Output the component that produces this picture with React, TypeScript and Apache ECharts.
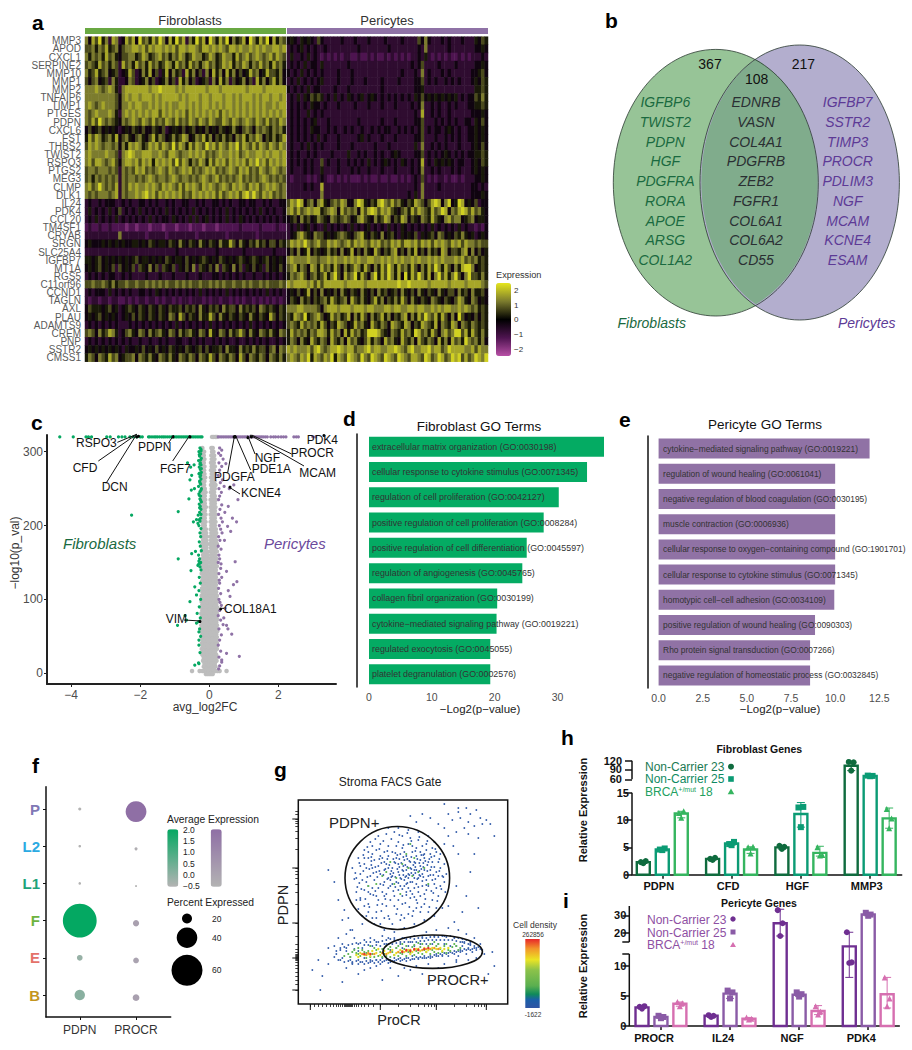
import React, { useEffect, useRef } from "react";
import * as echarts from "echarts";

const FONT = '"Liberation Sans", Arial, sans-serif';

/* ---------- a: heatmap ---------- */
const heatGenes = ["MMP3","APOD","CXCL1","SERPINE2","MMP10","MMP1","MMP2","TNFAIP6","TIMP1","PTGES","PDPN","CXCL6","FST","THBS2","TWIST2","RSPO3","PTGS2","MEG3","CLMP","DLK1","IL24","PDK4","CCL20","TM4SF1","CRYAB","SRGN","SLC25A4","IGFBP7","MT1A","RGS5","C11orf96","CCND1","TAGLN","AXL","PLAU","ADAMTS9","CREM","PNP","SSTR2","CMSS1"];
// one digit per cell column: 0 = about -2.25 ... 9 = about +2.25, read row by row
const heatFibroblasts = [
"748695738734868496758697485968375968497586947568497586948576",
"667576856746778878687887878688788768878787688787787878778878",
"757675867546677568756786757687568775687568775867867876786876",
"676586757638675867586756875867586757867568785768757686758675",
"756856745634586347584635847563857463748574857464586745866574",
"646745637533476345746345746385746345637485736457463857468574",
"777876787537888888878898888787888888788878888888788887888888",
"777777777647878878887878888878788878878887887878887878878878",
"787678777647787887787878787788787878878787887878787878778788",
"767877787537878787878868787878687878787868787878787878787878",
"768697676547678768768676876867687687687668768767876876867687",
"464564545434546546446546345546456454645465457546764767657675",
"586875675846754675468576457568745768574657564768576874657568",
"687876776747587875687868769687586876978687687968768687687687",
"787777877637898778887787688767787878676787787867877887878878",
"786887678647887868785878786968757687586878687878687978687878",
"677677767637676878676787687678786767878676787687867687678767",
"675767676737677676787677678767767678767867676786767678767676",
"786797676837687877878768787686878768787678768787687867878767",
"767677767837677878978687878786768787878686787868979768786767",
"343343444334343344343433434334433434334434343344344334343344",
"353434353463434353434343534343435343434343534343434353434334",
"343534343534343434353434435434353534534343534354343434343434",
"232232232222122122212221222122212221222122222232222232222322",
"333333333373333333233333233333333233333333233333333233333333",
"454445454545445545465455465475465475465475586475465756466465",
"333333333333333333333333333433333333333433333334333333334333",
"554564545454545645545454654554645456545465454565456545645454",
"454564546364546365474636546354647365464736547463546453645464",
"343434344334343333433343334333433343334434343434334334343434",
"667667657566766766767676766767676676676767667667676676766676",
"343444353434343344343543434343434353434343534343434343534343",
"323323323322323233233232332323323332323323323232332323232323",
"465554564534565465465465465564656475465647566475656476565465",
"454564545434546465465465476486465475586475465465475465486465",
"343434343433343434343434343534343434353434343434353434343434",
"676475687534675476475675476475675476485476475686475476575476",
"343434343434343343343343433443343434334343433433434343433434",
"454545454543544546454645465454654564645564755475657566467476",
"576476586745667476575476575476576476586476576486476576476575",
];
const heatPericytes = [
"454354543643333343334333433334333343333647433343433343335465",
"343453434334333333333433333333433333333437333333433333334454",
"353343534323232323322322323223232323233435323232322323233343",
"343435344353333333433333333333333333343463333433334333334454",
"434353434343333433343333333333333343334373433343433333344564",
"343534343453333433343334333343333433334463434334343433345465",
"434343534433334333433333333343333333334453333333333333335565",
"343535465653435343543453454343434343435464545454545343446575",
"343434354434333433334333433343334333343473343433434333445565",
"343433534343333333333333333333333333334383343433433333344454",
"343434345333433333333433333343334333334463334343434334435464",
"343434354433434334343343343434433434343463434434543433445454",
"343434343534333433333453433343334333334463334334343433445454",
"343343534343333433343333334333433333335373343434333433345464",
"343433434333343333533434334343345433334463434345434343445565",
"343434343363433433434343534345434354343483435454543443345465",
"343334343353333433343433433343334333343473343433343433345454",
"323333232343223232322232322322322323234363232332322323334454",
"333334343383333333333333333333333333334373333433333333344343",
"333333333373333333333333333333333333435373333333333333344454",
"687984674785467687447985465897686754658764689847945984546344",
"786867878856787486767486898687865467586876586798476898686754",
"456475645765476567645786547568746587465476586547867745674554",
"343534534335343434353434534343534354343434353434343534332324",
"345786547664545676546785465474564354546354564764546575453454",
"687879767866878767868787687867687868878687868787687868776766",
"464745846545756474584647548646578464758464756487466578474645",
"787777877677878778787877887787878787787877878787778786767565",
"678576487586758647568758647586975867586475869758647589974565",
"576786467568579648679586479586975849586975847968579647966575",
"878888786868888887888887888888888988988888788888788887888876",
"454645846474546475465475464756456475464754654754664756475564",
"465475646567586567486575468574657586475465476546546875476454",
"777887777647888788878887887778878877887887787878877878767565",
"658769567864586756847586475685746578475869768586474964546465",
"676586767586465876458675486576487658746587658476587476576565",
"586767576887586748586756999865476586759867586478679968586575",
"576475486576486574867546857648675486574865764857486759767574",
"878777868976788987886778978877889876897788978867988887786877",
"787687958768795876987697698769876987688769867986798968679879",
];

/* ---------- b: Venn ---------- */
const vennFibroblasts = ["IGFBP6","TWIST2","PDPN","HGF","PDGFRA","RORA","APOE","ARSG","COL1A2"];
const vennShared = ["EDNRB","VASN","COL4A1","PDGFRB","ZEB2","FGFR1","COL6A1","COL6A2","CD55"];
const vennPericytes = ["IGFBP7","SSTR2","TIMP3","PROCR","PDLIM3","NGF","MCAM","KCNE4","ESAM"];

/* ---------- c: volcano (flat x,y lists; grey rows start with y) ---------- */
const volcanoTopGreenX = [-4.33,-3.94,-3.57,-3.5,-3.41,-2.97,-2.87,-2.63,-2.53,-2.44,-2.3,-2.2,-2.1,-2.0,-1.94,-1.76,-1.72,-1.66,-1.6,-1.55,-1.5,-1.44,-1.38,-1.33,-1.28,-1.22,-1.16,-1.1,-1.05,-1.0,-.95,-.9,-.85,-.8,-.75,-.7,-.65,-.6,-.55,-.5,-.45,-.4,-.35,-.3,-.25,-.21];
const volcanoTopGreyX = [.08,.13,.18,.22];
const volcanoTopPurpleX = [.26,.31,.36,.41,.46,.51,.56,.61,.66,.71,.76,.81,.86,.91,.96,1.01,1.06,1.11,1.16,1.21,1.26,1.31,1.36,1.41,1.46,1.51,1.56,1.62,1.68,1.78,1.86,1.92,2.0,2.08,2.15,2.22,2.45,2.52,2.58,3.0,3.08];
const volcanoGreen = [-.27,305,-.24,303,-.3,300,-.25,297,-.28,294,-.23,291,-.31,288,-.26,285,-.24,282,-.29,279,-.26,276,-.23,272,-.3,270,-.27,266,-.24,263,-.28,260,-.25,256,-.31,253,-.23,250,-.27,246,-.3,243,-.25,240,-.27,236,-.23,232,-.29,229,-.26,226,-.24,222,-.28,218,-.32,214,-.25,210,-.27,206,-.3,200,-.24,196,-.27,190,-.25,185,-.29,178,-.26,172,-.23,166,-.31,160,-.28,155,-.25,150,-.3,148,-.27,144,-.24,140,-.29,130,-.26,122,-.3,112,-.25,100,-.29,90,-.26,75,-.31,70,-.28,60,-.25,50,-.3,38,-.27,28,-.31,14,-.24,301,-.29,296,-.25,289,-.27,283,-.23,277,-.28,271,-.25,268,-.27,258,-.24,248,-.29,241,-.25,234,-.28,224,-.24,215,-.29,208,-.33,203,-.3,152,-.27,149,-.33,146,
-2.25,214,-.9,219,-.9,155,-.92,65,-.63,285,-.54,279,-.44,282,-.51,268,-.56,262,-.52,248,-.59,236,-.43,250,-.46,205,-.37,208,-.53,139,-.51,162,-.4,165,-.42,117,-.56,97,-.37,106,-.35,81,-.7,78,-.37,68,-.42,11,-.3,13,-.3,45,-.3,56,-.66,72];
const volcanoPurple = [.3,305,.36,302,.27,298,.33,295,.4,290,.28,285,.36,280,.3,275,.26,268,.38,262,.32,258,.28,250,.35,245,.3,240,.27,235,.36,228,.31,222,.27,215,.34,210,.38,205,.29,200,.33,195,.37,190,.27,185,.31,180,.26,172,.34,168,.28,160,.3,155,.26,150,.33,142,.28,135,.36,130,.3,122,.27,115,.33,108,.28,100,.35,92,.3,85,.26,78,.33,72,.4,66,.28,60,.35,52,.3,45,.26,38,.33,30,.28,22,.36,15,.3,10,.27,6,.34,148,.29,126,.31,96,
.48,284,.71,255,.43,253,.83,235,.55,226,.67,210,.79,205,.53,199,.75,151,.5,138,.8,124,.7,120,.6,104,.5,65,.65,53,.5,27,.87,23,.36,18,.58,250,.45,218,.62,192,.44,180,.55,112,.46,88,.42,75,.54,60];
const volcanoGreyRows = [
[305,-.2,.06,.1],[295,-.21,-.16,.06,.1,.14],[285,-.21,-.16,.05,.09,.13],[275,-.2,-.15,.05,.09,.14],[265,-.21,-.16,-.12,.05,.09,.13],[255,-.2,-.15,.05,.09,.13,.18],[245,-.2,-.15,-.11,.05,.09,.14],[235,-.21,-.16,-.12,.04,.09,.14,.19],[225,-.2,-.15,-.1,.04,.08,.13,.18],[215,-.2,-.15,-.11,.04,.09,.14,.19],[205,-.21,-.16,-.11,.04,.08,.13,.18],[195,-.2,-.15,-.1,.04,.09,.14,.19],[185,-.21,-.16,-.11,-.07,.03,.08,.13,.18],[175,-.2,-.15,-.1,-.06,.03,.08,.13,.18,.22],[165,-.21,-.16,-.11,-.06,.03,.07,.12,.17,.22],[155,-.2,-.15,-.1,-.05,.03,.07,.12,.17,.21],[145,-.21,-.16,-.11,-.06,.02,.07,.12,.17,.22],[135,-.22,-.17,-.12,-.07,-.03,.02,.07,.12,.17,.21],[125,-.21,-.16,-.11,-.06,-.02,.02,.07,.12,.17,.22],[115,-.21,-.16,-.11,-.06,-.02,.02,.07,.12,.17,.21],
[105,-.22,-.17,-.12,-.07,-.02,.02,.07,.12,.17,.22],[97,-.22,-.17,-.12,-.07,-.02,.03,.08,.13,.18,.22],[89,-.22,-.17,-.12,-.07,-.02,.03,.08,.13,.18,.23],[81,-.23,-.18,-.13,-.08,-.03,.02,.07,.12,.17,.22],[73,-.22,-.17,-.12,-.07,-.02,.03,.08,.13,.18,.23],[65,-.23,-.18,-.13,-.08,-.03,.02,.07,.12,.17,.22],[57,-.22,-.17,-.12,-.07,-.02,.03,.08,.13,.18,.23],[49,-.22,-.17,-.12,-.07,-.02,.03,.08,.13,.18,.22],[41,-.21,-.16,-.11,-.06,-.01,.04,.09,.14,.19,.22],[33,-.22,-.17,-.12,-.07,-.02,.03,.08,.13,.18,.22],[25,-.2,-.15,-.1,-.05,0,.05,.1,.15,.2],[17,-.18,-.13,-.08,-.03,.02,.07,.12,.17,.21],[9,-.16,-.11,-.06,-.01,.04,.09,.14,.18],[3,-.5,-.28,-.2,-.14,-.08,-.03,.02,.07,.12,.18,.24,.3,.5],[-1,-.1,-.05,0,.05,.1],
[300,-.19,-.15,.08,.12],[290,-.19,-.14,.07,.11,.15],[280,-.19,-.14,.07,.11,.16],[270,-.19,-.14,.07,.12,.16],[260,-.19,-.14,.07,.11,.15],[250,-.19,-.13,.07,.11,.16],[240,-.18,-.13,.07,.11,.16],[230,-.18,-.13,.06,.11,.16],[220,-.18,-.13,.06,.11,.16],[210,-.18,-.13,.06,.11,.16],[200,-.18,-.13,.06,.11,.16],[190,-.18,-.13,-.09,.06,.1,.15,.2],[180,-.18,-.13,-.08,.05,.1,.15,.2],[170,-.18,-.13,-.08,.05,.1,.15,.2],[160,-.18,-.13,-.08,-.04,.05,.09,.14,.19],[150,-.18,-.13,-.08,-.04,.05,.09,.14,.19],[140,-.19,-.14,-.09,-.04,.04,.09,.14,.19],[130,-.19,-.14,-.09,-.04,0,.04,.09,.14,.19],[120,-.19,-.14,-.09,-.04,0,.04,.09,.14,.19],[110,-.2,-.15,-.1,-.05,0,.04,.09,.14,.2],
[101,-.2,-.15,-.1,-.05,0,.05,.1,.15,.2],[93,-.2,-.15,-.1,-.05,0,.05,.1,.15,.2],[85,-.2,-.15,-.1,-.05,0,.05,.1,.15,.2],[77,-.2,-.15,-.1,-.05,0,.05,.1,.15,.2],[69,-.2,-.15,-.1,-.05,0,.05,.1,.15,.2],[61,-.2,-.15,-.1,-.05,0,.05,.1,.15,.2],[53,-.2,-.15,-.1,-.05,0,.05,.1,.15,.2],[45,-.19,-.14,-.09,-.04,.01,.06,.11,.16,.21],[37,-.19,-.14,-.09,-.04,.01,.06,.11,.16,.21],[29,-.18,-.13,-.08,-.03,.02,.07,.12,.17],[21,-.16,-.11,-.06,-.01,.04,.09,.14,.19],[13,-.14,-.09,-.04,.01,.06,.11,.16],[6,-.12,-.07,-.02,.03,.08,.13]];
const volcanoLabelled = [-2.05,321,-2.1,320,-1.05,320,-.56,320,.72,320,.75,320,1.12,319,1.22,320,3.32,322,.6,252,.33,87,-.27,70];

/* ---------- d, e: GO terms ---------- */
const goFibroTerms = ["extracellular matrix organization (GO:0030198)","cellular response to cytokine stimulus (GO:0071345)","regulation of cell proliferation (GO:0042127)","positive regulation of cell proliferation (GO:0008284)","positive regulation of cell differentiation (GO:0045597)","regulation of angiogenesis (GO:0045765)","collagen fibril organization (GO:0030199)","cytokine\u2212mediated signaling pathway (GO:0019221)","regulated exocytosis (GO:0045055)","platelet degranulation (GO:0002576)"];
const goFibroValues = [37.4,34.7,30.2,27.8,25.1,24.4,20.4,20.3,19.3,19.3];
const goPeriTerms = ["cytokine\u2212mediated signaling pathway (GO:0019221)","regulation of wound healing (GO:0061041)","negative regulation of blood coagulation (GO:0030195)","muscle contraction (GO:0006936)","cellular response to oxygen\u2212containing compound (GO:1901701)","cellular response to cytokine stimulus (GO:0071345)","homotypic cell\u2212cell adhesion (GO:0034109)","positive regulation of wound healing (GO:0090303)","Rho protein signal transduction (GO:0007266)","negative regulation of homeostatic process (GO:0032845)"];
const goPeriValues = [11.95,10.0,10.0,10.0,10.0,10.0,9.95,8.86,8.58,8.58];

/* ---------- f: dot plot ---------- */
const dotRows = ["B","E","F","L1","L2","P"];
const dotRowColors = ["#c3951e","#e4726a","#6db33f","#1ea37a","#2baae2","#7f78b5"];
const dotGenes = ["PDPN","PROCR"];
const dotPdpnPercent = [20,11,65,5,5,6];
const dotPdpnAverage = [0.1,-0.1,2,-0.5,-0.5,-0.5];
const dotProcrPercent = [13,11,12,4,6,40];
const dotProcrAverage = [0.2,0.1,0.2,-0.5,-0.3,2];
const dotProcrShift = -0.07;

/* ---------- g: FACS (x,y flat lists) ---------- */
const facsBlue = [62,130,70,118,58,112,66,140,74,150,82,160,78,132,86,122,90,148,94,136,98,158,102,126,106,144,110,130,114,152,118,120,122,138,126,146,130,128,134,156,138,116,142,136,88,170,96,172,104,168,112,166,120,164,128,160,70,100,78,92,86,86,94,80,102,84,110,90,118,96,126,100,134,104,140,108,146,122,60,95,64,88,72,110,80,104,88,98,96,108,104,100,112,106,120,112,128,114,136,120,84,112,92,118,100,114,108,120,116,126,124,118,132,134,140,128,56,125,54,136,60,146,66,154,72,162,80,168,90,176,100,176,110,174,120,172,130,168,136,162,142,150,146,140,148,130,147,112,144,96,136,88,126,84,116,80,106,76,96,72,86,74,76,80,68,88,105,138,108,134,112,142,116,134,100,132,96,142,92,130,88,140,84,146,80,138,76,144,72,128,68,122,64,124,118,148,122,144,126,134,128,124,130,142,106,152,102,150,98,146,94,152,90,158,86,152,110,160,114,158,118,156,122,152,104,156,100,162,108,148,112,122,116,116,120,126,124,130,108,112,104,108,100,104,96,98,92,104,88,110,84,100,80,116,76,124,74,136,70,146,68,136,82,130,86,134,90,126,94,120,98,122,102,118,106,124,110,116,114,110,118,104,122,108,126,110,130,118,134,124,138,132,140,142,136,148,132,150,128,154,124,158,
100,140,104,134,108,128,112,136,116,142,94,128,90,136,86,142,82,148,78,154,74,158,70,152,66,146,62,138,58,126,58,104,62,104,66,98,70,92,74,86,78,86,82,80,90,88,98,90,106,86,114,88,122,92,130,92,138,96,142,118,144,128,138,152,134,142,126,150,122,128,118,134,
60,60,66,64,72,66,78,62,84,68,90,66,96,64,36,58,40,66,44,60,48,70,52,74,56,66,30,40,24,28,44,22,60,30,72,36,84,24,100,28,112,34,124,30,140,36,152,28,48,36,54,40,66,34,78,38,92,36,106,36,118,38,130,40,146,40,158,42,170,44,178,46,186,50,194,52,182,60,176,66,168,70,160,74,150,76,138,74,128,72,116,68,106,66,178,54,172,60,164,62,156,66,146,68,136,68,124,66,112,62,102,60,92,42,82,40,72,42,62,42,52,44,42,44,38,50,42,54,48,56,54,42,60,44,66,46,72,44,78,44,84,46,90,44,96,46,102,46,108,46,114,48,120,46,126,46,132,46,138,48,144,48,150,48,156,50,162,52,168,50,174,52,176,56,170,56,164,58,158,58,152,58,146,60,140,60,134,60,128,60,122,60,116,58,110,58,104,56,98,56,92,54,88,60,160,48,166,62,158,44,172,62,
140,180,146,176,150,190,154,184,158,172,160,192,162,186,166,176,168,196,170,182,172,190,176,178,178,194,182,186,184,180,188,184,192,180,150,168,146,160,155,158,160,150,180,166,196,168,132,186,124,190,118,182,112,188,146,200,160,196,170,170,176,150,158,118,172,132,164,92,180,96,168,108,196,38,190,30,156,82,150,98,40,104,46,94,44,84,54,74,36,122,30,134,64,80,50,86,22,14,14,34,20,44,30,56];
const facsBlueCloud = [61,121,65,133,69,127,73,139,77,113,81,145,85,119,89,125,93,133,97,117,101,137,105,129,109,121,113,131,117,141,121,133,125,127,129,139,133,113,137,125,141,133,63,115,67,105,71,97,75,109,79,99,83,93,87,105,91,85,95,113,99,95,103,89,107,101,111,97,115,93,119,101,123,97,127,105,131,97,135,111,139,103,143,115,145,127,59,117,57,131,61,141,65,149,69,157,73,147,77,165,81,155,85,163,89,153,93,165,97,151,101,169,105,159,109,171,113,163,117,153,121,167,125,149,129,163,133,147,137,155,141,145,
95,131,97,127,99,135,101,129,103,141,105,133,107,127,109,137,111,143,113,135,115,129,117,137,119,145,121,129,123,135,125,141,101,145,103,125,105,147,107,139,109,145,111,129,113,147,115,139,117,131,119,125,121,141,123,149,125,137,127,143,129,133,131,145,133,137,135,129,91,139,93,127,89,145,87,135,85,129,83,141,81,133,79,127,77,137,75,131,73,143,71,135,95,145,97,141,99,149,92,124,106,118,110,126,114,122,100,121,104,115,108,109,112,113,116,107,120,117,124,123,128,119,132,129,136,137,90,116,86,108,82,120,78,108,74,116,70,112,66,114,62,106];
const facsBlueBand = [36,47,38,53,40,44,42,56,44,46,46,42,46,57,48,53,50,43,50,59,52,47,54,60,54,41,56,55,58,43,58,61,60,40,60,53,62,61,64,42,64,56,66,40,66,59,68,62,68,43,70,59,70,41,72,62,74,43,74,58,76,41,76,64,78,44,78,59,80,42,80,62,82,44,82,58,84,42,84,63,86,43,86,60,88,44,88,64,90,41,90,60,92,44,92,65,94,43,94,60,96,43,96,66,98,44,98,61,100,45,100,64,102,43,102,62,104,44,104,66,106,45,106,62,108,43,108,65,110,46,110,62,112,44,112,66,114,45,114,62,116,45,116,65,118,47,118,62,120,45,120,66,122,47,122,63,124,46,124,67,126,48,126,63,128,46,128,66,130,47,130,64,132,48,132,67,134,47,134,64,136,49,136,67,138,50,138,64,140,48,140,67,142,50,142,64,144,49,144,68,146,51,146,64,148,50,148,67,150,51,150,64,152,52,152,68,154,51,154,64,156,53,156,67,158,52,158,63,160,53,160,66,162,54,162,62,164,53,164,65,166,55,166,61,168,54,168,64,170,55,170,60,172,54,172,59,174,55,176,58,178,56,180,57,182,55,184,54];
const facsGreen = [98,126,104,140,110,136,114,128,120,132,108,150,96,120,88,132,78,120,116,146,126,136,102,110,92,142,84,128,130,120,112,160,70,118,
50,50,54,52,58,51,62,48,66,52,70,53,74,50,78,54,82,52,86,50,90,55,94,52,98,56,102,51,106,55,110,52,114,57,118,53,122,57,126,54,130,58,134,54,138,58,142,55,146,58,150,54,154,57,158,58,162,56,60,56,68,46,76,47,84,47,92,47,100,48,108,48,116,49,124,50,132,50,140,51,148,51,46,48,72,58,88,58,104,60,120,61,136,62,
52,47,56,54,60,50,64,54,68,51,72,47,76,56,80,48,84,55,88,48,92,57,96,49,100,58,104,50,108,58,112,51,116,59,120,51,124,60,128,52,132,60,136,52,140,60,144,52,148,60,152,53,156,60,160,54];
const facsYellow = [58,49,62,51,66,49,70,50,74,53,78,51,82,49,86,53,90,51,94,54,98,51,102,54,106,52,110,54,114,52,118,55,122,53,126,56,130,54,134,56,138,55,142,56,146,55,150,56,60,47,72,48,80,55,96,49,112,50,128,52,144,53];
const facsOrange = [64,50,70,51,76,50,84,51,92,52,100,52,104,53,108,53,112,54,116,54,120,55,124,54,128,55,132,55,136,56,140,55,68,49,88,50];
const facsRed = [66,50,72,50,104,52,108,54,112,53,116,55,120,54,126,55,130,56];
const facsTicksX = [12,16,20,24,28,32,35,38,40,42,44,46,47,48,49,50,51,52,53,54,56,58,60,63,66,70,75,82,100,112,120,126,130,133,136,138,156,168,176,180,183,186,188];
const facsTicksY = [14,20,24,28,32,36,39,42,44,45,46,47,48,49,50,52,55,60,68,81,100,112,120,126,130,133,136,155,166,173,178,181,183,185,190,193];

/* ---------- h, i: bars ---------- */
const hGenes = ["PDPN","CFD","HGF","MMP3"];
const hMeanNC23 = [2.3,2.9,5.0,104];
const hMeanNC25 = [4.6,5.7,11.1,70.6];
const hMeanBRCA = [11.2,4.6,4.0,10.3];
const hPointsNC23 = [[2.3,2.5,2.1],[2.9,3.1,2.7],[5.3,5.1,4.7],[116,115,88]];
const hPointsNC25 = [[4.6,4.8,4.5],[5.6,6.0,5.4],[12.3,12.4,8.7],[72,71,70]];
const hPointsBRCA = [[11.3,11.6,10.4],[5.0,5.1,3.9],[5.0,3.6,3.5],[12,10.3,8.5]];
const hRangeNC23 = [[2.1,2.5],[2.7,3.1],[4.7,5.3],[88,118]];
const hRangeNC25 = [[4.5,4.8],[5.4,6.0],[8.7,13.2],[70,72]];
const hRangeBRCA = [[10.4,11.6],[3.9,5.1],[3.4,5.2],[8.5,12.2]];
const hTicks = [0,5,10,15,60,90,120];
const hAxisLabels = [0,5,10,15];
const iGenes = ["PROCR","IL24","NGF","PDK4"];
const iMeanNC23 = [3.1,1.7,25.6,13.9];
const iMeanNC25 = [1.5,5.4,5.2,30.6];
const iMeanBRCA = [3.7,1.2,2.5,5.3];
const iPointsNC23 = [[3.2,3.3,2.9],[1.8,1.7,1.5],[33,25.6,18.4],[20.5,10.6,10.5]];
const iPointsNC25 = [[1.7,1.5,1.3],[5.9,5.6,4.6],[5.6,5.3,4.9],[31.5,30.5,29.8]];
const iPointsBRCA = [[4.0,3.8,3.3],[1.4,1.2,1.1],[3.3,2.4,1.9],[8.1,4.6,3.3]];
const iRangeNC23 = [[2.9,3.3],[1.5,1.8],[18.4,33.5],[8.1,20.5]];
const iRangeNC25 = [[1.3,1.7],[4.6,5.9],[4.9,5.6],[29.8,31.5]];
const iRangeBRCA = [[3.3,4.0],[1.1,1.4],[1.9,3.4],[3.0,8.1]];
const iTicks = [0,5,10,12,15,20,30];
const iLabelTicks = [0,5,10,20,30];
const dotJitter = [-0.035,0.035,0];

// broken axes: the value axes below run in plotted units, so both parts of each break keep their own scale
const hPlot = (v: number) => (v <= 15 ? v : v >= 60 ? 17.45 + (v - 60) * 0.0567 : 15 + ((v - 15) / 45) * 2.45);
const iPlot = (v: number) => (v <= 12 ? v : v <= 15 ? 12 + ((v - 12) / 3) * 2 : 14 + (v - 15) * 0.295);

const pairs = (a: number[]) => { const o: number[][] = []; for (let i = 0; i + 1 < a.length; i += 2) o.push([a[i], a[i + 1]]); return o; };

echarts.graphic.registerShape("vennLens", echarts.graphic.extendPath("M755.7 59.3A102.5 133.3 0 0 1 755.7 304.3A99.7 137.5 0 0 1 755.7 59.3Z", {}));

type TO = { color?: string; bold?: boolean; italic?: boolean; align?: string; rot?: number; rich?: any };
const T = (x: number, y: number, text: string, size: number, o: TO = {}) => ({
  type: "text", x, y, z: 100, silent: true, rotation: o.rot || 0,
  style: { text, fill: o.color || "#222", font: `${o.italic ? "italic " : ""}${o.bold ? "bold " : ""}${size}px ${FONT}`, textAlign: o.align || "left", textVerticalAlign: "middle", rich: o.rich },
});
const L = (x1: number, y1: number, x2: number, y2: number, color = "#111", w = 1) => ({ type: "line", z: 99, silent: true, shape: { x1, y1, x2, y2 }, style: { stroke: color, lineWidth: w } });
const R = (x: number, y: number, width: number, height: number, fill: any) => ({ type: "rect", z: 90, silent: true, shape: { x, y, width, height }, style: { fill } });
const C = (cx: number, cy: number, r: number, fill: string) => ({ type: "circle", z: 100, silent: true, shape: { cx, cy, r }, style: { fill } });

function buildOption() {
  const grid: any[] = [], xAxis: any[] = [], yAxis: any[] = [], series: any[] = [], visualMap: any[] = [], g: any[] = [];
  const add = (gr: any, x: any, y: any) => { const i = grid.length; grid.push({ containLabel: false, ...gr }); xAxis.push({ gridIndex: i, ...x }); yAxis.push({ gridIndex: i, ...y }); return i; };
  const base = { splitLine: { show: false }, axisLine: { onZero: false, lineStyle: { color: "#111", width: 1.5 } }, axisTick: { lineStyle: { color: "#111" } } };

  /* a */
  const cols = Array.from({ length: 60 }, (_, i) => String(i));
  const cell = (rows: string[]) => { const o: number[][] = []; rows.forEach((s, r) => { for (let c = 0; c < 60; c++) o.push([c, r, -2.25 + 0.5 * Number(s[c % s.length])]); }); return o; };
  const hidden = { show: false };
  const aFib = add({ left: 85, width: 201, top: 36.7, height: 325 },
    { type: "category", data: cols, axisLine: hidden, axisTick: hidden, axisLabel: hidden, splitLine: hidden },
    { type: "category", data: heatGenes, inverse: true, axisLine: hidden, axisTick: hidden, splitLine: hidden, axisLabel: { interval: 0, fontSize: 10, color: "#5a5a5a", margin: 4, fontFamily: FONT } });
  const aPer = add({ left: 287, width: 201, top: 36.7, height: 325 },
    { type: "category", data: cols, axisLine: hidden, axisTick: hidden, axisLabel: hidden, splitLine: hidden },
    { type: "category", data: heatGenes, inverse: true, show: false });
  series.push({ type: "heatmap", xAxisIndex: aFib, yAxisIndex: aFib, data: cell(heatFibroblasts), progressive: 0, itemStyle: { borderWidth: 0 } });
  series.push({ type: "heatmap", xAxisIndex: aPer, yAxisIndex: aPer, data: cell(heatPericytes), progressive: 0, itemStyle: { borderWidth: 0 } });
  visualMap.push({ type: "continuous", seriesIndex: [0, 1], min: -2.5, max: 2.5, dimension: 2, left: 496, top: 283, itemWidth: 15, itemHeight: 73, padding: 0, calculable: false, realtime: false, hoverLink: false, inRange: { color: ["#b84fa6", "#4e1450", "#000000", "#7c7c2e", "#e6e61e"] } });
  g.push(R(85, 28, 201, 6, "#69a842"), R(287, 28, 201, 6, "#8f72a6"));
  g.push(T(190, 20, "Fibroblasts", 13, { align: "center", color: "#333" }), T(387, 20, "Pericytes", 13, { align: "center", color: "#333" }));
  g.push(T(496, 274.5, "Expression", 9.2, { color: "#333" }));
  [["2", 290], ["1", 305], ["0", 319.5], ["\u22121", 334.5], ["\u22122", 349.5]].forEach(([t, y]) => g.push(T(514, y as number, t as string, 8, { color: "#333" })));

  /* b */
  g.push({ type: "ellipse", z: 50, silent: true, shape: { cx: 715.8, cy: 182.7, rx: 102.5, ry: 133.3 }, style: { fill: "#97c497" } });
  g.push({ type: "ellipse", z: 51, silent: true, shape: { cx: 799.7, cy: 182.5, rx: 99.7, ry: 137.5 }, style: { fill: "#b3aece" } });
  g.push({ type: "vennLens", z: 52, silent: true, x: 0, y: 0, style: { fill: "#80ac8c" } });
  g.push({ type: "ellipse", z: 53, silent: true, shape: { cx: 715.8, cy: 182.7, rx: 102.5, ry: 133.3 }, style: { fill: "none", stroke: "#2a3a30", lineWidth: 0.8 } });
  g.push({ type: "ellipse", z: 53, silent: true, shape: { cx: 799.7, cy: 182.5, rx: 99.7, ry: 137.5 }, style: { fill: "none", stroke: "#2a3a30", lineWidth: 0.8 } });
  const vennY = [102, 121.7, 141.7, 161.3, 181, 201, 220.7, 240.3, 260];
  vennFibroblasts.forEach((t, i) => g.push(T(665.3, vennY[i], t, 14, { italic: true, align: "center", color: "#1a6a3f" })));
  vennShared.forEach((t, i) => g.push(T(756, vennY[i], t, 14, { italic: true, align: "center", color: "#2a2f33" })));
  vennPericytes.forEach((t, i) => g.push(T(847.7, vennY[i], t, 14, { italic: true, align: "center", color: "#5d3a96" })));
  g.push(T(710, 64.3, "367", 14, { align: "center", color: "#111" }), T(803.3, 64, "217", 14, { align: "center", color: "#111" }), T(756.7, 79.3, "108", 14, { align: "center", color: "#111" }));
  g.push(T(651.7, 322.7, "Fibroblasts", 14, { italic: true, align: "center", color: "#1a6a3f" }), T(866.7, 322.7, "Pericytes", 14, { italic: true, align: "center", color: "#5d3a96" }));

  /* c */
  const tickLab = { fontSize: 12, color: "#4d4d4d", fontFamily: FONT };
  const cI = add({ left: 47, width: 289, top: 435, height: 249 },
    { ...base, type: "value", min: -4.7, max: 3.67, axisLine: { onZero: false, lineStyle: { color: "#222", width: 2 } }, axisTick: { length: 3, customValues: [-4, -2, 0, 2], lineStyle: { color: "#222" } }, axisLabel: { ...tickLab, customValues: [-4, -2, 0, 2], formatter: (v: number) => String(v).replace("-", "\u2212"), margin: 5 } },
    { ...base, type: "value", min: -14.5, max: 322.6, axisLine: { onZero: false, lineStyle: { color: "#222", width: 2 } }, axisTick: { length: 3, customValues: [0, 100, 200, 300], lineStyle: { color: "#222" } }, axisLabel: { ...tickLab, customValues: [0, 100, 200, 300], margin: 4 } });
  const scat = (i: number, data: number[][], color: string, size: number, extra: any = {}) => series.push({ type: "scatter", xAxisIndex: i, yAxisIndex: i, data, symbolSize: size, itemStyle: { color, opacity: 1 }, symbol: extra.symbol || "circle", clip: false, z: extra.z || 2 });
  const greyPts: number[][] = [];
  volcanoGreyRows.forEach((r) => r.slice(1).forEach((x) => greyPts.push([x, r[0]])));
  volcanoTopGreyX.forEach((x) => greyPts.push([x, 320]));
  scat(cI, greyPts, "#bdbdbd", 4.5, { z: 2 });
  scat(cI, volcanoTopGreenX.map((x) => [x, 320]).concat(pairs(volcanoGreen)), "#06a862", 3.2, { z: 3 });
  scat(cI, volcanoTopPurpleX.map((x) => [x, 320]).concat(pairs(volcanoPurple)), "#8f72a6", 3.2, { z: 3 });
  scat(cI, pairs(volcanoLabelled), "#000", 3, { z: 4 });
  g.push(T(15, 553, "\u2212log10(p_val)", 12, { rot: Math.PI / 2, align: "center", color: "#333" }));
  g.push(T(205, 707, "avg_log2FC", 12, { align: "center", color: "#333" }));
  g.push(T(63, 543.7, "Fibroblasts", 15, { italic: true, color: "#1a6a3f" }), T(264, 543.7, "Pericytes", 15, { italic: true, color: "#6b4a9c" }));
  ([["RSPO3", 76, 443.3], ["CFD", 72.7, 467.7], ["DCN", 101.7, 487.3], ["PDPN", 138, 446.7], ["FGF7", 160, 469], ["PDGFA", 214, 477], ["PDE1A", 251.7, 468.7], ["NGF", 254.7, 457.7], ["PROCR", 290.7, 452.7], ["MCAM", 299.3, 473.3], ["PDK4", 306.7, 440], ["KCNE4", 241, 493], ["COL18A1", 224, 608.7], ["VIM", 165.7, 618.7]] as [string, number, number][]).forEach(([t, x, y]) => g.push(T(x, y, t, 12, { color: "#111" })));
  ([[410, 163, 352, 187], [410, 163, 295, 243], [410, 163, 318, 310], [521, 165, 505, 190], [570, 165, 518, 243], [704, 165, 683, 278], [706, 165, 752, 270], [743, 167, 765, 222], [755, 165, 875, 222], [750, 165, 912, 258], [690, 323, 720, 342], [662, 685, 672, 685], [552, 720, 603, 723]] as number[][]).forEach((p) => g.push(L(p[0] / 3, 380 + p[1] / 3, p[2] / 3, 380 + p[3] / 3, "#111", 1)));

  /* d, e */
  const goPanel = (left: number, width: number, top: number, height: number, min: number, max: number, ticks: number[], fmt: any, terms: string[], vals: number[], color: string, dist: number, fs: number) => {
    const i = add({ left, width, top, height },
      { ...base, type: "value", min, max, axisTick: { length: 3, customValues: ticks, lineStyle: { color: "#111" } }, axisLabel: { fontSize: 10.5, color: "#4d4d4d", fontFamily: FONT, customValues: ticks, formatter: fmt, margin: 4 } },
      { type: "category", inverse: true, data: terms, splitLine: hidden, axisLine: base.axisLine, axisTick: { length: 2, lineStyle: { color: "#111" } }, axisLabel: hidden });
    series.push({ type: "bar", xAxisIndex: i, yAxisIndex: i, data: vals, barWidth: 20, itemStyle: { color }, label: { show: true, position: "insideLeft", distance: dist, color: "#333", fontSize: fs, fontFamily: FONT, formatter: (p: any) => terms[p.dataIndex] } });
  };
  goPanel(357, 258, 434, 253, -1.91, 39.15, [0, 10, 20, 30], (v: number) => String(v), goFibroTerms, goFibroValues, "#04ab63", 3, 8.9);
  goPanel(648, 231.3, 436, 252, -0.6, 12.5, [0, 2.5, 5, 7.5, 10, 12.5], (v: number) => v.toFixed(1), goPeriTerms, goPeriValues, "#9072a5", 4.5, 8.4);
  g.push(T(479, 426.7, "Fibroblast GO Terms", 13.5, { align: "center", color: "#111" }), T(765, 424.7, "Pericyte GO Terms", 13.5, { align: "center", color: "#111" }));
  g.push(T(480, 709, "\u2212Log2(p\u2212value)", 11.5, { align: "center", color: "#222" }), T(780, 709, "\u2212Log2(p\u2212value)", 11.5, { align: "center", color: "#222" }));

  /* f */
  const fI = add({ left: 46, width: 124.7, top: 786.7, height: 230.3 },
    { ...base, type: "value", min: -0.6, max: 1.616, axisTick: { length: 3, customValues: [0, 1], lineStyle: { color: "#111" } }, axisLabel: { fontSize: 12, color: "#333", fontFamily: FONT, customValues: [0, 1], formatter: (v: number) => dotGenes[Math.round(v)], margin: 7 } },
    { ...base, type: "value", min: -0.59, max: 5.6, axisTick: { length: 3, customValues: [0, 1, 2, 3, 4, 5], lineStyle: { color: "#111" } }, axisLabel: { fontSize: 15, fontWeight: "bold", fontFamily: FONT, customValues: [0, 1, 2, 3, 4, 5], formatter: (v: number) => dotRows[Math.round(v)], color: (v: number) => dotRowColors[Math.round(v)], margin: 6 } });
  const dotSize = (d: number[]) => Math.max(2, d[2] * 0.52);
  const sPdpn = series.length;
  series.push({ type: "scatter", xAxisIndex: fI, yAxisIndex: fI, symbolSize: dotSize, itemStyle: { opacity: 1 }, data: dotRows.map((_, i) => [0, i, dotPdpnPercent[i], dotPdpnAverage[i]]) });
  series.push({ type: "scatter", xAxisIndex: fI, yAxisIndex: fI, symbolSize: dotSize, itemStyle: { opacity: 1 }, data: dotRows.map((_, i) => [1, i + dotProcrShift, dotProcrPercent[i], dotProcrAverage[i]]) });
  visualMap.push({ type: "continuous", seriesIndex: sPdpn, dimension: 3, min: -0.5, max: 2, left: 167.3, top: 829.3, itemWidth: 11, itemHeight: 57.4, padding: 0, calculable: false, hoverLink: false, inRange: { color: ["#b3b3b3", "#04a862"] } });
  visualMap.push({ type: "continuous", seriesIndex: sPdpn + 1, dimension: 3, min: -0.5, max: 2, left: 210.7, top: 829.3, itemWidth: 11, itemHeight: 57.4, padding: 0, calculable: false, hoverLink: false, inRange: { color: ["#b3b3b3", "#8f6fa5"] } });
  g.push(T(167, 819.5, "Average Expression", 10.3, { color: "#222" }), T(167, 902.5, "Percent Expressed", 10.3, { color: "#222" }));
  [["2.0", 830], ["1.5", 841], ["1.0", 852], ["0.5", 863.7], ["0.0", 875], ["\u22120.5", 886]].forEach(([t, y]) => g.push(T(183, y as number, t as string, 8.5, { color: "#222" })));
  g.push(C(187, 918.5, 5, "#000"), C(187, 937.7, 10.3, "#000"), C(187, 970.3, 15.5, "#000"));
  g.push(T(212, 918.5, "20", 8.5, { color: "#222" }), T(212, 937.7, "40", 8.5, { color: "#222" }), T(212, 970.3, "60", 8.5, { color: "#222" }));

  /* g */
  const gI = add({ left: 298.3, width: 209.4, top: 800, height: 204, show: true, borderColor: "#111", borderWidth: 1.5, backgroundColor: "#fff" },
    { type: "value", min: 0, max: 209.4, splitLine: hidden, axisLine: hidden, axisLabel: hidden, axisTick: { show: true, length: 3, customValues: facsTicksX, lineStyle: { color: "#111", width: 0.8 } } },
    { type: "value", min: 0, max: 204, splitLine: hidden, axisLine: hidden, axisLabel: hidden, axisTick: { show: true, length: 3, customValues: facsTicksY, lineStyle: { color: "#111", width: 0.8 } } });
  scat(gI, pairs(facsBlue).concat(pairs(facsBlueCloud), pairs(facsBlueBand)), "#3a62ad", 1.9);
  scat(gI, pairs(facsGreen), "#62b758", 2.1);
  scat(gI, pairs(facsYellow), "#e4de26", 2.4);
  scat(gI, pairs(facsOrange), "#f09a22", 2.5);
  scat(gI, pairs(facsRed), "#e6352e", 2.5);
  [12, 82, 138, 188].forEach((x) => g.push(L(298.3 + x, 1004, 298.3 + x, 1010, "#111", 1)));
  [14, 46, 81, 136, 185].forEach((y) => g.push(L(298.3, 1004 - y, 292.3, 1004 - y, "#111", 1)));
  g.push({ type: "ellipse", z: 95, silent: true, shape: { cx: 397.3, cy: 878, rx: 52.3, ry: 51.5 }, style: { fill: "none", stroke: "#111", lineWidth: 1.6 } });
  g.push({ type: "ellipse", z: 95, silent: true, shape: { cx: 432.7, cy: 951.7, rx: 49.7, ry: 16.7 }, style: { fill: "none", stroke: "#111", lineWidth: 1.6 } });
  g.push(T(390, 782, "Stroma FACS Gate", 12, { align: "center", color: "#222" }), T(329, 822.7, "PDPN+", 15, { color: "#222" }), T(427, 980, "PROCR+", 14.7, { color: "#222" }), T(399, 1020, "ProCR", 14.5, { align: "center", color: "#222" }), T(283, 905, "PDPN", 14.5, { rot: Math.PI / 2, align: "center", color: "#222" }));
  g.push(R(525.3, 939, 14.4, 69, new echarts.graphic.LinearGradient(0, 0, 0, 1, [{ offset: 0, color: "#e8262a" }, { offset: 0.14, color: "#f2962a" }, { offset: 0.3, color: "#ebe424" }, { offset: 0.45, color: "#8cc24a" }, { offset: 0.68, color: "#5aaf50" }, { offset: 0.8, color: "#0f8a5a" }, { offset: 0.88, color: "#1a5fa8" }, { offset: 1, color: "#2f54a4" }])));
  g.push(T(535, 924.7, "Cell density", 8.5, { align: "center", color: "#333" }), T(533, 934, "262856", 6.5, { align: "center", color: "#333" }), T(533, 1014, "-1622", 6.5, { align: "center", color: "#333" }));

  /* h, i */
  const barItem = (color: string) => (_: any, api: any) => {
    const x = api.value(0), p0 = api.coord([x, 0]), pm = api.coord([x, api.value(1)]), pl = api.coord([x, api.value(2)]), ph = api.coord([x, api.value(3)]);
    const w = 13, line = (x1: number, y1: number, x2: number, y2: number) => ({ type: "line", shape: { x1, y1, x2, y2 }, style: { stroke: color, lineWidth: 1 } });
    return { type: "group", children: [
      { type: "rect", shape: { x: p0[0] - w / 2, y: pm[1], width: w, height: p0[1] - pm[1] }, style: { fill: "#fff", stroke: color, lineWidth: 2.4 } },
      line(p0[0], pl[1], p0[0], ph[1]), line(p0[0] - 4, pl[1], p0[0] + 4, pl[1]), line(p0[0] - 4, ph[1], p0[0] + 4, ph[1]),
    ] };
  };
  const barPanel = (i: number, plot: (v: number) => number, groups: any[]) => {
    groups.forEach((gp, k) => {
      const off = (k - 1) * 0.274;
      series.push({ type: "custom", xAxisIndex: i, yAxisIndex: i, renderItem: barItem(gp.color), encode: { x: 0, y: 1 }, clip: false, z: 2,
        data: gp.mean.map((m: number, c: number) => [c + off, plot(m), plot(gp.range[c][0]), plot(gp.range[c][1])]) });
      const pts: number[][] = [];
      gp.pts.forEach((a: number[], c: number) => a.forEach((v, j) => pts.push([c + off + dotJitter[j], plot(v)])));
      scat(i, pts, gp.color, 6, { symbol: gp.symbol, z: 3 });
    });
  };
  const nearest = (list: number[], plot: (v: number) => number) => (v: number) => String(list.reduce((b, t) => (Math.abs(plot(t) - v) < Math.abs(plot(b) - v) ? t : b)));
  const boldLab = { fontSize: 11, fontWeight: "bold", color: "#111", fontFamily: FONT };
  const hI = add({ left: 632, width: 269.7, top: 755, height: 119.7 },
    { ...base, type: "value", min: -0.437, max: 3.455, axisTick: { length: 4, customValues: [0, 1, 2, 3], lineStyle: { color: "#111", width: 1.5 } }, axisLabel: { ...boldLab, customValues: [-0.05, 0.95, 1.95, 2.95], formatter: (v: number) => hGenes[Math.round(v)], margin: 6 } },
    { type: "value", min: 0, max: 21.9, splitLine: hidden, axisLine: { show: false, onZero: false }, axisTick: { show: true, length: 7, customValues: hTicks.map(hPlot), lineStyle: { color: "#111", width: 1.5 } }, axisLabel: { ...boldLab, customValues: hAxisLabels.map(hPlot), formatter: nearest(hAxisLabels, hPlot), margin: 3 } });
  barPanel(hI, hPlot, [
    { color: "#0f6b3e", symbol: "circle", mean: hMeanNC23, range: hRangeNC23, pts: hPointsNC23 },
    { color: "#0b9b74", symbol: "rect", mean: hMeanNC25, range: hRangeNC25, pts: hPointsNC25 },
    { color: "#35b55f", symbol: "triangle", mean: hMeanBRCA, range: hRangeBRCA, pts: hPointsBRCA },
  ]);
  g.push(T(622, 760.7, "120", 11, { bold: true, align: "right", color: "#111" }), T(622, 769.3, "90", 11, { bold: true, align: "right", color: "#111" }), T(622, 779.3, "60", 11, { bold: true, align: "right", color: "#111" }));
  g.push(L(632, 792.7, 632, 874.7, "#111", 1.5), L(632, 760.7, 632, 779.3, "#111", 1.5));
  g.push(T(759.3, 749, "Fibroblast Genes", 10.5, { bold: true, align: "center", color: "#111" }));
  g.push(T(582.7, 810, "Relative Expression", 11, { bold: true, rot: Math.PI / 2, align: "center", color: "#111" }));
  const sup = (c: string) => ({ s: { font: `7px ${FONT}`, fill: c, verticalAlign: "top" } });
  g.push(T(645, 766.7, "Non-Carrier 23", 12, { color: "#1a7a52" }), T(645, 779, "Non-Carrier 25", 12, { color: "#0e8a62" }), T(645, 791.7, "BRCA{s|+/mut} 18", 12, { color: "#229f60", rich: sup("#229f60") }));
  g.push(C(731, 766.7, 3, "#0f6b3e"), R(728.2, 776.2, 5.6, 5.6, "#0b9b74"));
  g.push({ type: "polygon", z: 100, silent: true, shape: { points: [[731, 788.5], [734.3, 794.3], [727.7, 794.3]] }, style: { fill: "#35b55f" } });

  const iI = add({ left: 629.3, width: 270, top: 900, height: 126 },
    { ...base, type: "value", min: -0.458, max: 3.45, axisTick: { length: 4, customValues: [0, 1, 2, 3], lineStyle: { color: "#111", width: 1.5 } }, axisLabel: { ...boldLab, customValues: [-0.1, 0.9, 1.9, 2.9], formatter: (v: number) => iGenes[Math.round(v)], margin: 6 } },
    { type: "value", min: 0, max: 21, splitLine: hidden, axisLine: { show: false, onZero: false }, axisTick: { show: true, length: 7, customValues: iTicks.map(iPlot), lineStyle: { color: "#111", width: 1.5 } }, axisLabel: { ...boldLab, customValues: iLabelTicks.map(iPlot), formatter: nearest(iLabelTicks, iPlot), margin: 3 } });
  barPanel(iI, iPlot, [
    { color: "#6f2f91", symbol: "circle", mean: iMeanNC23, range: iRangeNC23, pts: iPointsNC23 },
    { color: "#8a5ba6", symbol: "rect", mean: iMeanNC25, range: iRangeNC25, pts: iPointsNC25 },
    { color: "#d66fb0", symbol: "triangle", mean: iMeanBRCA, range: iRangeBRCA, pts: iPointsBRCA },
  ]);
  g.push(L(629.3, 954, 629.3, 1026, "#111", 1.5), L(629.3, 906, 629.3, 942, "#111", 1.5));
  g.push(T(759, 902.7, "Pericyte Genes", 10.5, { bold: true, align: "center", color: "#111" }));
  g.push(T(582.7, 966, "Relative Expression", 11, { bold: true, rot: Math.PI / 2, align: "center", color: "#111" }));
  g.push(T(647, 920, "Non-Carrier 23", 12, { color: "#8e4fa3" }), T(647, 932.5, "Non-Carrier 25", 12, { color: "#8e4fa3" }), T(647, 945, "BRCA{s|+/mut} 18", 12, { color: "#8e4fa3", rich: sup("#8e4fa3") }));
  g.push(C(733, 919, 2.7, "#6f2f91"), R(730.5, 929.5, 5, 5, "#8a5ba6"));
  g.push({ type: "polygon", z: 100, silent: true, shape: { points: [[733, 942], [736, 947], [730, 947]] }, style: { fill: "#d66fb0" } });

  /* panel letters */
  ([["a", 32, 22], ["b", 605, 20], ["c", 31, 422], ["d", 343, 418], ["e", 619, 419], ["f", 32, 765], ["g", 274, 769], ["h", 561, 737], ["i", 563, 900]] as [string, number, number][]).forEach(([t, x, y]) => g.push(T(x, y, t, 21, { bold: true, color: "#000" })));

  return { animation: false, backgroundColor: "#fff", textStyle: { fontFamily: FONT }, grid, xAxis, yAxis, series, visualMap, graphic: { elements: g } };
}

export default function App() {
  const ref = useRef<HTMLDivElement>(null);
  useEffect(() => {
    const chart = echarts.init(ref.current!, undefined, { renderer: "svg" });
    chart.setOption(buildOption() as any);
    return () => chart.dispose();
  }, []);
  return <div ref={ref} style={{ position: "absolute", left: 0, top: 0, width: 912, height: 1050 }} />;
}
